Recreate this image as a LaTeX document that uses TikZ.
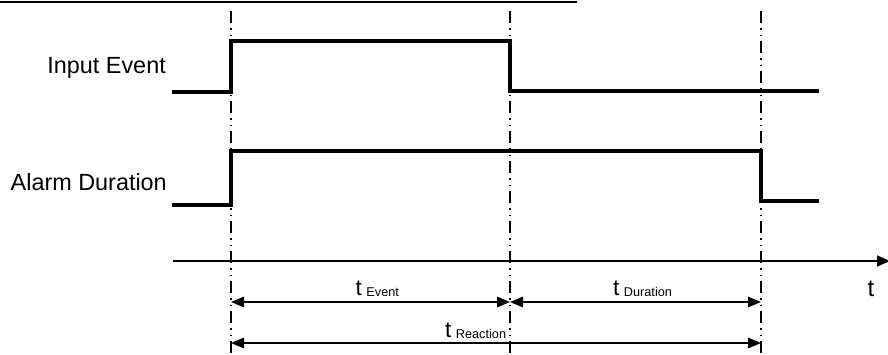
\documentclass[tikz,border=0pt]{standalone}
\usepackage{fontspec}
\setmainfont{Liberation Sans}
\usetikzlibrary{arrows.meta}
\tikzset{
  signal/.style={line width=3.6pt, line join=miter, line cap=rect},
  guide/.style={line width=2pt, dash pattern=on 12pt off 5pt on 1.5pt off 5pt on 1.5pt off 5pt},
  axis/.style={line width=1.6pt, -{Triangle[length=13pt,width=11pt]}},
  dim/.style={line width=1.6pt, {Triangle[length=13pt,width=10.5pt]}-{Triangle[length=13pt,width=10.5pt]}},
  lbl/.style={inner sep=0pt, font=\fontsize{23.4}{28}\selectfont},
  tlbl/.style={inner sep=0pt, anchor=base west, font=\fontsize{22.5}{26}\selectfont},
}
\newcommand{\tsub}[1]{t\hspace{4.5pt}\raisebox{-1.8pt}{\fontsize{12.7}{15}\selectfont #1}}
\begin{document}
\begin{tikzpicture}[x=1pt,y=-1pt]
\useasboundingbox (0,0) rectangle (888,354);
% top rule
\coordinate (ruleA) at (0,2);
\coordinate (ruleB) at (577,2);
\draw[line width=2.4pt] (ruleA) -- (ruleB);
% guide lines
\coordinate (g1t) at (231,11); \coordinate (g1b) at (231,354);
\coordinate (g2t) at (510,11); \coordinate (g2b) at (510,354);
\coordinate (g3t) at (761,11); \coordinate (g3b) at (761,354);
\draw[guide] (g1t) -- (g1b);
\draw[guide] (g2t) -- (g2b);
\draw[guide] (g3t) -- (g3b);
% labels
\node[lbl, anchor=base east] (inlbl) at (166,73) {Input Event};
\node[lbl, anchor=base east] (allbl) at (167,190) {Alarm Duration};
% input event signal
\coordinate (i0) at (174,92);
\coordinate (i1) at (231,92);
\coordinate (i2) at (231,41);
\coordinate (i3) at (510,41);
\coordinate (i4) at (510,91);
\coordinate (i5) at (817,91);
\draw[signal] (i0) -- (i1) -- (i2) -- (i3) -- (i4) -- (i5);
% alarm duration signal
\coordinate (a0) at (174,205);
\coordinate (a1) at (231,205);
\coordinate (a2) at (231,151);
\coordinate (a3) at (761,151);
\coordinate (a4) at (761,201);
\coordinate (a5) at (817,201);
\draw[signal] (a0) -- (a1) -- (a2) -- (a3) -- (a4) -- (a5);
% time axis
\coordinate (ax0) at (173,261);
\coordinate (ax1) at (890,261);
\draw[axis] (ax0) -- (ax1);
\node[tlbl, font=\fontsize{24}{28}\selectfont] (tax) at (867.5,296) {t};
% dimension arrows
\coordinate (e0) at (231,302); \coordinate (e1) at (510,302);
\coordinate (d0) at (510,302); \coordinate (d1) at (761,302);
\coordinate (r0) at (231,343); \coordinate (r1) at (761,343);
\draw[dim] (e0) -- (e1);
\draw[dim] (d0) -- (d1);
\draw[dim] (r0) -- (r1);
\node[tlbl] (tev) at (355.5,295) {\tsub{Event}};
\node[tlbl] (tdu) at (613,295) {\tsub{Duration}};
\node[tlbl] (tre) at (445,337) {\tsub{Reaction}};
\end{tikzpicture}
\end{document}
